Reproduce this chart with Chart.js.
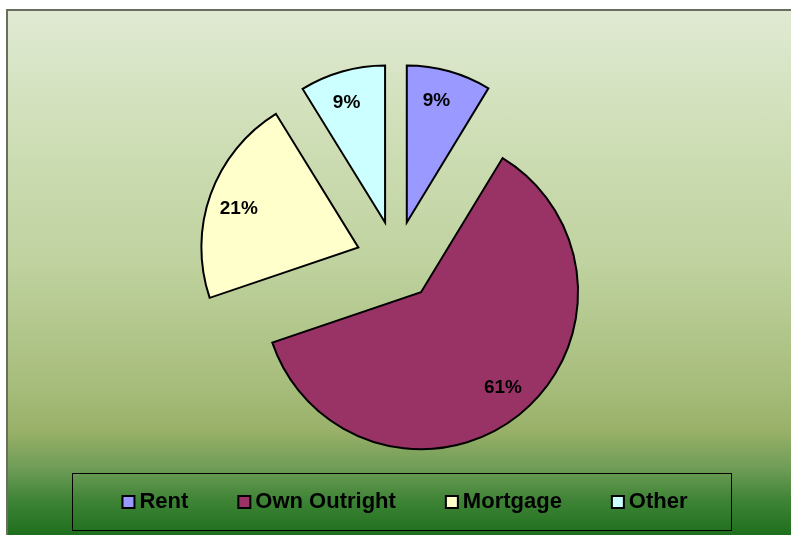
<!DOCTYPE html>
<html>
<head>
<meta charset="utf-8">
<script src="https://cdn.jsdelivr.net/npm/chart.js@4/dist/chart.umd.min.js"></script>
<style>
  html, body { margin: 0; padding: 0; background: #ffffff; }
  #frame {
    position: absolute; left: 6px; top: 9px; width: 785px; height: 526px;
    border-left: 2px solid #686e60; border-top: 2px solid #686e60;
    background: linear-gradient(to bottom, #e0ead3 0%, #d0dfb8 22%, #bfd29f 48%, #a6bc7a 72%, #98b068 80%, #6e9c56 87%, #3f8436 93%, #1c6e1c 100%);
  }
  #wrap { position: absolute; left: 0; top: 0; width: 791px; height: 535px; }
</style>
</head>
<body>
<div id="frame"></div>
<div id="wrap"><canvas id="pie" width="791" height="535"></canvas></div>
<script>
const categories = ['Rent', 'Own Outright', 'Mortgage', 'Other'];
const shares = [8.7, 61.1, 21.4, 8.8];
const sliceColors = ['#9999FF', '#993366', '#FFFFCC', '#CCFFFF'];

const EXPLODE = 40; // every slice is pulled out from the centre

// push each arc out along its middle angle before drawing it
const Arc = (Chart.elements && Chart.elements.ArcElement) || Chart.ArcElement;
const baseArcDraw = Arc.prototype.draw;
Arc.prototype.draw = function (ctx) {
  const mid = (this.startAngle + this.endAngle) / 2;
  ctx.save();
  ctx.translate(Math.cos(mid) * EXPLODE, Math.sin(mid) * EXPLODE);
  baseArcDraw.call(this, ctx);
  ctx.restore();
};

const sliceLabels = {
  id: 'sliceLabels',
  afterDatasetsDraw(chart) {
    const ctx = chart.ctx;
    const meta = chart.getDatasetMeta(0);
    const vals = chart.data.datasets[0].data;
    const total = vals.reduce((a, b) => a + b, 0);
    ctx.save();
    ctx.font = 'bold 19px "Liberation Sans", Arial, sans-serif';
    ctx.fillStyle = '#000';
    ctx.textAlign = 'center';
    ctx.textBaseline = 'middle';
    meta.data.forEach((arc, i) => {
      const mid = (arc.startAngle + arc.endAngle) / 2;
      const off = { x: Math.cos(mid) * EXPLODE, y: Math.sin(mid) * EXPLODE };
      const a = mid - 2 * Math.PI / 180; // labels sit a touch anticlockwise of the middle
      const d = arc.outerRadius * 0.8;
      ctx.fillText(Math.round(vals[i] / total * 100) + '%', arc.x + off.x + Math.cos(a) * d, arc.y + off.y + Math.sin(a) * d);
    });
    ctx.restore();
  }
};

const boxLegend = {
  id: 'boxLegend',
  afterDraw(chart) {
    const ctx = chart.ctx;
    const labels = chart.data.labels;
    const colors = chart.data.datasets[0].backgroundColor;
    ctx.save();
    ctx.strokeStyle = '#000';
    ctx.lineWidth = 1;
    ctx.strokeRect(72.5, 473.5, 659, 57);

    ctx.font = 'bold 22px "Liberation Sans", Arial, sans-serif';
    ctx.textBaseline = 'middle';
    ctx.textAlign = 'left';
    const box = 14, gapText = 4, gapItem = 49;
    const widths = labels.map(t => ctx.measureText(t).width);
    const total = widths.reduce((a, w) => a + box + gapText + w, 0) + gapItem * (labels.length - 1);
    let x = 404.5 - total / 2;
    const cy = 502;
    labels.forEach((t, i) => {
      ctx.fillStyle = colors[i];
      ctx.fillRect(x + 1, cy - 6, box - 2, box - 2);
      ctx.lineWidth = 2;
      ctx.strokeStyle = '#000';
      ctx.strokeRect(x + 1, cy - 6, box - 2, box - 2);
      ctx.fillStyle = '#000';
      ctx.fillText(t, x + box + gapText, cy);
      x += box + gapText + widths[i] + gapItem;
    });
    ctx.restore();
  }
};

new Chart(document.getElementById('pie'), {
  type: 'pie',
  data: {
    labels: categories,
    datasets: [{
      data: shares,
      backgroundColor: sliceColors,
      borderColor: '#000000',
      borderWidth: 2,
      borderJoinStyle: 'miter',
      radius: 157
    }]
  },
  options: {
    responsive: false,
    animation: false,
    layout: { padding: { left: 1, right: 0, top: 0, bottom: 13 } },
    plugins: {
      legend: { display: false },
      tooltip: { enabled: false }
    }
  },
  plugins: [sliceLabels, boxLegend]
});
</script>
</body>
</html>
